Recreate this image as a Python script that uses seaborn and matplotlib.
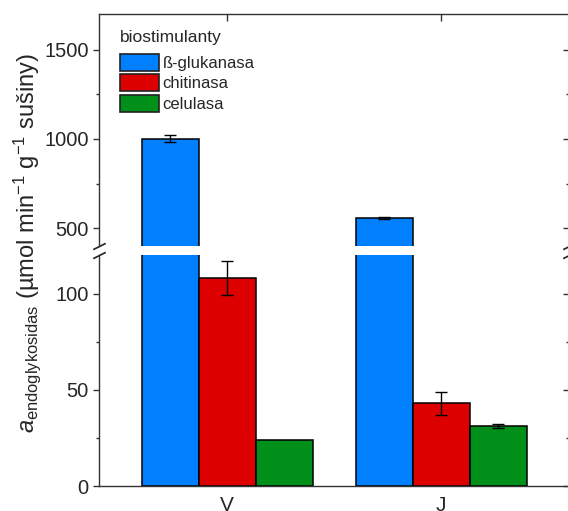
import matplotlib
matplotlib.use("Agg")
import matplotlib.pyplot as plt
import seaborn as sns
import pandas as pd
import numpy as np
from matplotlib.ticker import MultipleLocator

sns.set_theme(style="ticks")
plt.rcParams['font.family'] = ['Liberation Sans', 'DejaVu Sans']
plt.rcParams['mathtext.fontset'] = 'custom'
plt.rcParams['mathtext.rm'] = 'Liberation Sans'
plt.rcParams['mathtext.it'] = 'Liberation Sans:italic'

# ---- data ----
groups = ["V", "J"]
enzymes = ["ß-glukanasa", "chitinasa", "celulasa"]
glukanasa = [1000, 556]
chitinasa = [108, 43]
celulasa = [24, 31]
err_glukanasa = [20, 4]
err_chitinasa = [9, 6]
err_celulasa = [0, 1]
colors = ["#0080FF", "#DD0000", "#00901A"]

values = [glukanasa, chitinasa, celulasa]
errors = [err_glukanasa, err_chitinasa, err_celulasa]
rows = []
for e, vals in zip(enzymes, values):
    for g, v in zip(groups, vals):
        rows.append({"group": g, "enzyme": e, "value": v})
df = pd.DataFrame(rows)

W, H = 568, 511
fig = plt.figure(figsize=(W / 100, H / 100), dpi=100)
left = 99 / W
width = 470.4 / W
ax_up = fig.add_axes([left, (H - 246) / H, width, 232 / H])
ax_lo = fig.add_axes([left, (H - 486) / H, width, 231 / H])

spine_c = "#333333"
for ax in (ax_up, ax_lo):
    sns.barplot(data=df, x="group", y="value", hue="enzyme", order=groups,
                hue_order=enzymes, palette=colors, errorbar=None, width=0.8,
                edgecolor="black", linewidth=1.1, saturation=1, ax=ax)
    for cont, errs in zip(ax.containers, errors):
        for bar, er in zip(cont, errs):
            if er > 0:
                ax.errorbar(bar.get_x() + bar.get_width() / 2, bar.get_height(),
                            yerr=er, fmt="none", ecolor="black", elinewidth=1.0,
                            capsize=4, capthick=1.0, zorder=5)
    ax.set_xlim(-0.6, 1.6)
    ax.set_xlabel("")
    ax.set_ylabel("")
    for s in ax.spines.values():
        s.set_color(spine_c)
        s.set_linewidth(1.0)
    ax.tick_params(axis="y", which="major", direction="out", length=4.5, width=1,
                   color=spine_c, labelsize=14.5, pad=3)
    ax.tick_params(axis="y", which="minor", direction="out", length=2.5, width=1,
                   color=spine_c)

ax_up.set_ylim(400, 1700)
ax_up.yaxis.set_major_locator(MultipleLocator(500))
ax_up.yaxis.set_minor_locator(MultipleLocator(250))
ax_lo.set_ylim(0, 120)
ax_lo.yaxis.set_major_locator(MultipleLocator(50))
ax_lo.yaxis.set_minor_locator(MultipleLocator(25))

# spines and ticks
ax_up.spines["bottom"].set_visible(False)
ax_lo.spines["top"].set_visible(False)
ax_up.tick_params(axis="x", which="both", bottom=False, labelbottom=False,
                  top=True, direction="in", length=5, width=1, color=spine_c)
ax_lo.tick_params(axis="x", which="both", bottom=True, top=False, direction="in",
                  length=5, width=1, color=spine_c, labelsize=15, pad=7)

# right-side inward ticks via secondary axes
for ax in (ax_up, ax_lo):
    sec = ax.secondary_yaxis("right")
    sec.yaxis.set_major_locator(ax.yaxis.get_major_locator())
    sec.yaxis.set_minor_locator(ax.yaxis.get_minor_locator())
    sec.tick_params(which="major", direction="in", length=4.5, width=1,
                    color=spine_c, labelright=False)
    sec.tick_params(which="minor", direction="in", length=2.5, width=1,
                    color=spine_c, labelright=False)
    sec.spines["right"].set_color(spine_c)

# legend
ax_lo.get_legend().remove()
handles, labels = ax_up.get_legend_handles_labels()
ax_up.get_legend().remove()
leg = ax_up.legend(handles, labels, title="biostimulanty", loc="upper left",
                   bbox_to_anchor=(0.045, 0.93), frameon=False, fontsize=12,
                   title_fontsize=12.5, handlelength=2.35, handleheight=1.2,
                   labelspacing=0.2, handletextpad=0.2, borderpad=0,
                   borderaxespad=0, alignment="left")
leg._legend_box.sep = 6
for p in leg.get_patches():
    p.set_edgecolor("#222222")
    p.set_linewidth(1.2)

# break marks
kw = dict(marker=[(-1, -0.5), (1, 0.5)], markersize=9, linestyle="none",
          color="#222222", mec="#222222", mew=1.2, clip_on=False)
ax_up.plot([0, 1], [0, 0], transform=ax_up.transAxes, **kw)
ax_lo.plot([0, 1], [1, 1], transform=ax_lo.transAxes, **kw)

fig.text(27 / W, (H - 243) / H,
         r"$a_{\mathrm{endoglykosidas}}$ (µmol min$^{-1}$ g$^{-1}$ sušiny)",
         rotation=90, ha="center", va="center", fontsize=17)

fig.savefig("out.png", dpi=100)
